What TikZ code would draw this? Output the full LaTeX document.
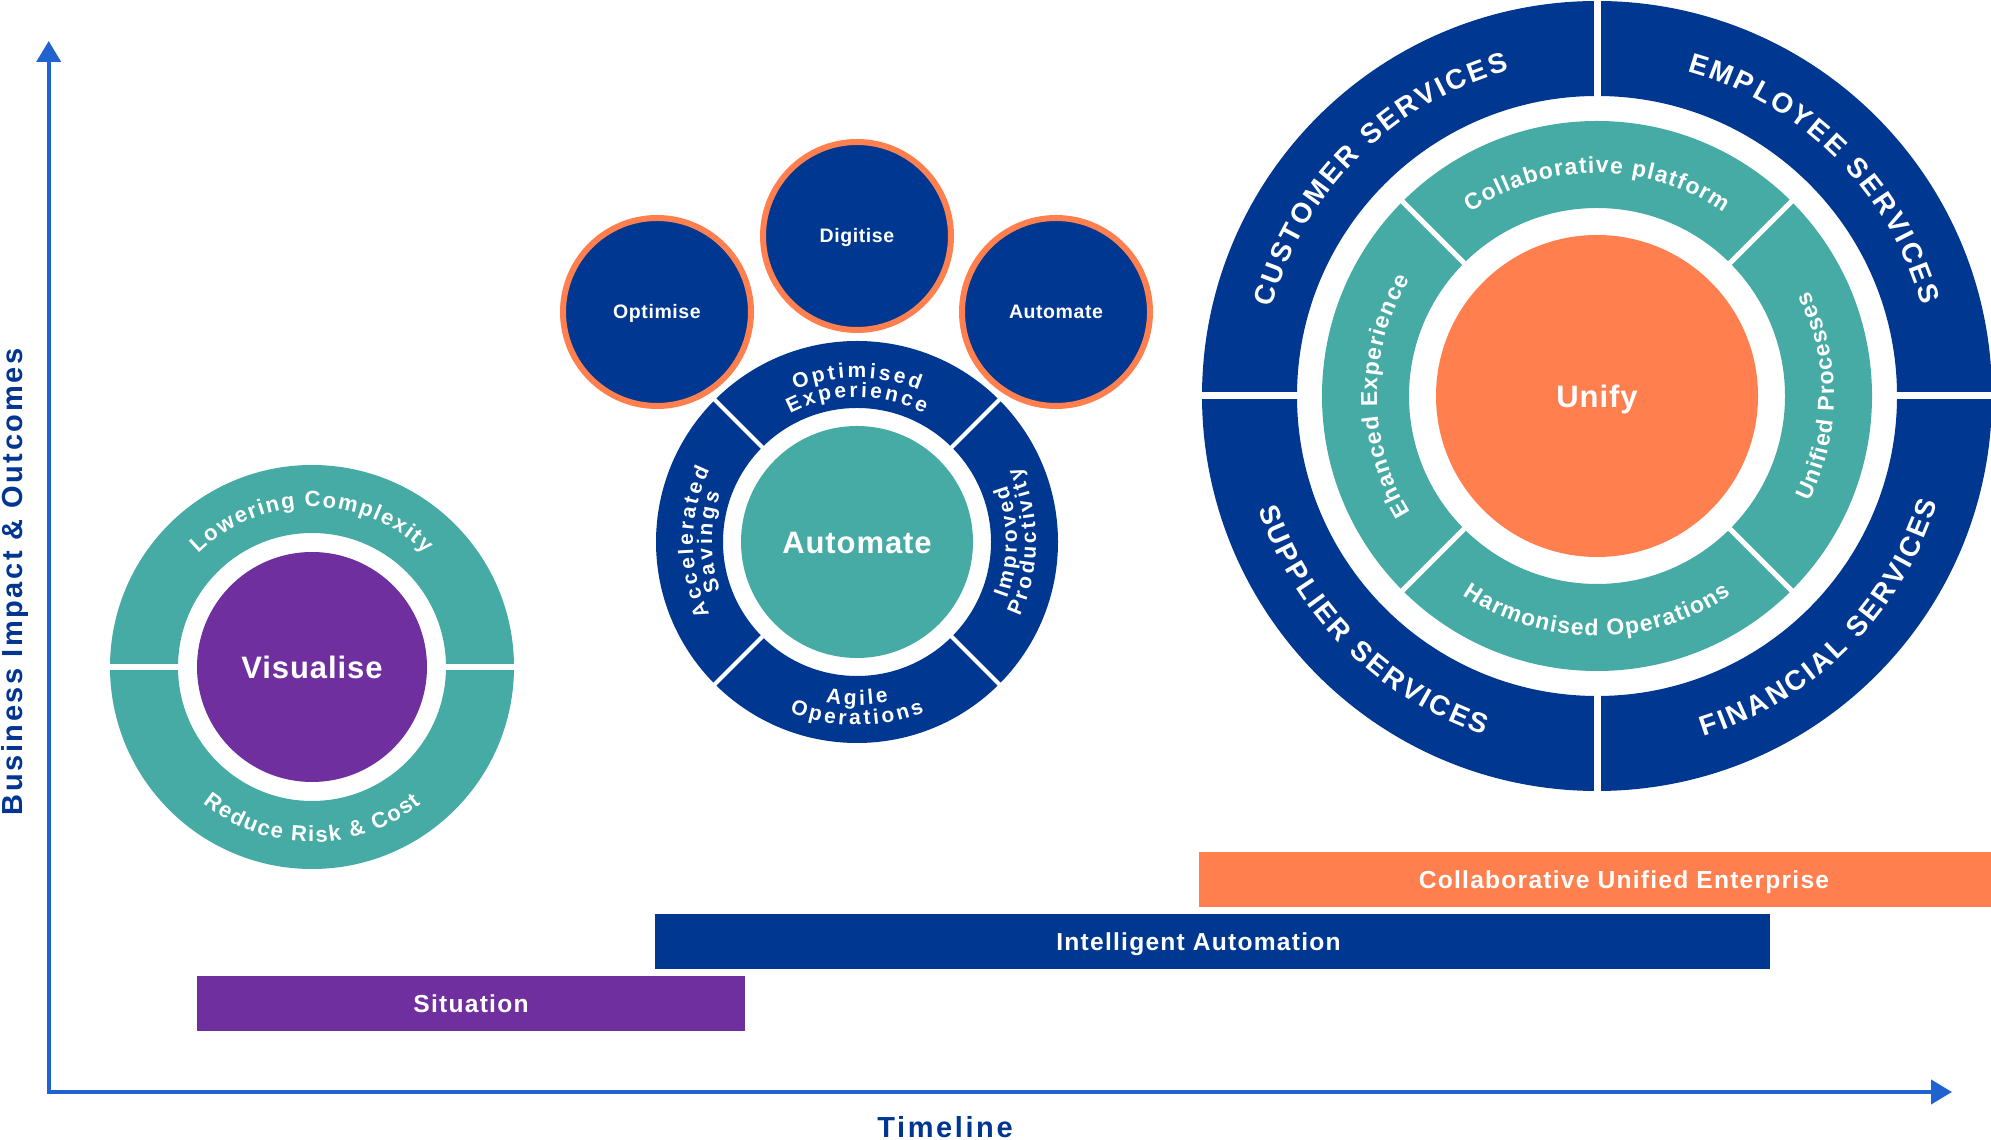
\documentclass[tikz,border=0pt]{standalone}
\usepackage{fontspec}
\setmainfont{Liberation Sans}
\usetikzlibrary{arrows.meta,decorations.text}

\definecolor{ringblue}{HTML}{003891}
\definecolor{ringteal}{HTML}{45ABA4}
\definecolor{unifyorange}{HTML}{FF7F4F}
\definecolor{vispurple}{HTML}{6F2F9E}
\definecolor{axisblue}{HTML}{1F62D0}
\definecolor{labelblue}{HTML}{003591}

\newcommand\visarc{\fontsize{11}{13}\selectfont\bfseries}
\newcommand\autarc{\fontsize{10.5}{12}\selectfont\bfseries}
\newcommand\tealarc{\fontsize{11.5}{14}\selectfont\bfseries}
\newcommand\bluearc{\fontsize{14}{16}\selectfont\bfseries}

\begin{document}
\begin{tikzpicture}[x=0.5pt, y=0.5pt,
    cut/.style={white, line width=#1},
    arctext/.style n args={3}{decorate, decoration={text effects along path, text={#3}, text align=center,
        text effects/.cd, text along path,
        characters={text=white, font=#1, anchor=base, inner sep=0pt},
        character widths={font=#1, inner xsep=#2, inner ysep=0pt}}},
    core/.style={circle, inner sep=0pt, text=white, font=\fontsize{15.5}{18}\selectfont\bfseries\addfontfeatures{LetterSpace=3}, text height=11.1pt, text depth=0pt},
    bubble/.style={circle, fill=ringblue, draw=unifyorange, line width=3pt, minimum size=94pt, inner sep=0pt, text=white, font=\fontsize{9.75}{12}\selectfont\bfseries\addfontfeatures{LetterSpace=3}, text height=7pt, text depth=0pt},
    bar/.style={inner sep=0pt, minimum height=27.5pt, text=white, font=\fontsize{12.3}{14}\selectfont\bfseries\addfontfeatures{LetterSpace=5}, text height=8.8pt, text depth=0pt},
    axislabel/.style={text=labelblue, font=\fontsize{14.5}{17}\selectfont\bfseries\addfontfeatures{LetterSpace=9}, inner sep=0pt, anchor=base}]
    \useasboundingbox (0,0) rectangle (1991,1140);
    \clip (0,0) rectangle (1991,1140);

    \coordinate (vis) at (312,473);
    \coordinate (aut) at (857,598);
    \coordinate (uni) at (1597,744);

    % axes
    \coordinate (origin) at (48.7,48);
    \coordinate (ytip) at (48.7,1099);
    \coordinate (xtip) at (1952,48);
    \draw[axisblue, line width=2pt, {Triangle[length=10.5pt, width=12pt]}-{Triangle[length=10.5pt, width=12pt]}] (ytip) -- (origin) -- (xtip);
    \node[axislabel, rotate=90] (impact) at (23,558) {Business Impact \& Outcomes};
    \node[axislabel] (timeline) at (945,2.3) {Timeline};

    % visualise
    \fill[ringteal, even odd rule] (vis) circle (202) (vis) circle (134);
    \foreach \a in {0,180}
        \draw[cut=2.7pt] (vis) ++(\a:130) -- ++(\a:76);
    \node[core, fill=vispurple, minimum size=115pt] (visualise) at (vis) {Visualise};
    \path[arctext={\visarc}{0.4pt}{Lowering Complexity}, shift={(vis)}] (180:160) arc[start angle=180, end angle=0, radius=160];
    \path[arctext={\visarc}{0.4pt}{Reduce Risk \& Cost}, shift={(vis)}] (180:175) arc[start angle=180, end angle=360, radius=175];

    % automate
    \fill[ringblue, even odd rule] (aut) circle (201) (aut) circle (134);
    \foreach \a in {45,135,225,315}
        \draw[cut=2pt] (aut) ++(\a:130) -- ++(\a:75);
    \node[core, fill=ringteal, minimum size=116pt] (automation) at (aut) {Automate};
    \node[bubble] (optimise) at (657,828) {Optimise};
    \node[bubble] (digitise) at (857,904) {Digitise};
    \node[bubble] (automate) at (1056,828) {Automate};
    \path[arctext={\autarc}{0.75pt}{Optimised}, shift={(aut)}] (180:164) arc[start angle=180, end angle=0, radius=164];
    \path[arctext={\autarc}{0.75pt}{Experience}, shift={(aut)}] (180:145) arc[start angle=180, end angle=0, radius=145];
    \path[arctext={\autarc}{0.75pt}{Agile}, shift={(aut)}] (180:163) arc[start angle=180, end angle=360, radius=163];
    \path[arctext={\autarc}{0.75pt}{Operations}, shift={(aut)}] (180:183) arc[start angle=180, end angle=360, radius=183];
    \path[arctext={\autarc}{0.75pt}{Accelerated}, shift={(aut)}] (270:164) arc[start angle=270, end angle=90, radius=164];
    \path[arctext={\autarc}{0.75pt}{Savings}, shift={(aut)}] (270:145) arc[start angle=270, end angle=90, radius=145];
    \path[arctext={\autarc}{0.75pt}{Improved}, shift={(aut)}] (-90:160) arc[start angle=-90, end angle=90, radius=160];
    \path[arctext={\autarc}{0.75pt}{Productivity}, shift={(aut)}] (-90:179) arc[start angle=-90, end angle=90, radius=179];

    % unify
    \fill[ringblue, even odd rule] (uni) circle (395) (uni) circle (300);
    \foreach \a in {0,90,180,270}
        \draw[cut=3.5pt] (uni) ++(\a:296) -- ++(\a:110);
    \fill[ringteal, even odd rule] (uni) circle (275) (uni) circle (188);
    \foreach \a in {45,135,225,315}
        \draw[cut=2.5pt] (uni) ++(\a:185) -- ++(\a:95);
    \node[core, fill=unifyorange, minimum size=161pt] (unify) at (uni) {Unify};
    \path[arctext={\bluearc}{0.65pt}{CUSTOMER SERVICES}, shift={(uni)}] (180:337) arc[start angle=180, end angle=90, radius=337];
    \path[arctext={\bluearc}{0.65pt}{EMPLOYEE SERVICES}, shift={(uni)}] (90:337) arc[start angle=90, end angle=0, radius=337];
    \path[arctext={\bluearc}{0.65pt}{SUPPLIER SERVICES}, shift={(uni)}] (180:357) arc[start angle=180, end angle=270, radius=357];
    \path[arctext={\bluearc}{0.65pt}{FINANCIAL SERVICES}, shift={(uni)}] (270:357) arc[start angle=270, end angle=360, radius=357];
    \path[arctext={\tealarc}{0.3pt}{Collaborative platform}, shift={(uni)}] (180:223) arc[start angle=180, end angle=0, radius=223];
    \path[arctext={\tealarc}{0.3pt}{Harmonised Operations}, shift={(uni)}] (180:240) arc[start angle=180, end angle=360, radius=240];
    \path[arctext={\tealarc}{0.3pt}{Ehanced Experience}, shift={(uni)}] (270:220) arc[start angle=270, end angle=90, radius=220];
    \path[arctext={\tealarc}{0.3pt}{Unified Processes}, shift={(uni)}] (-90:237) arc[start angle=-90, end angle=90, radius=237];

    % phases
    \node[bar, fill=vispurple, minimum width=274pt] (situation) at (471,136.5) {Situation};
    \node[bar, fill=ringblue, minimum width=557.5pt] (intelligent) at (1212.5,198.5) {\hspace*{-14pt}Intelligent Automation};
    \node[bar, fill=unifyorange, minimum width=425pt] (enterprise) at (1624,260.5) {Collaborative Unified Enterprise};
\end{tikzpicture}
\end{document}
